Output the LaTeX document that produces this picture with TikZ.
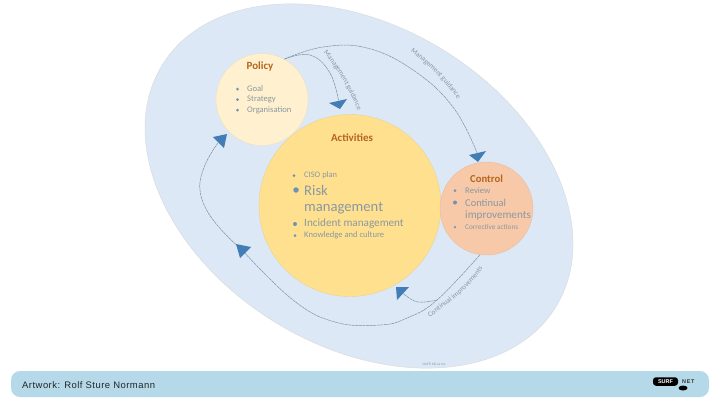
\documentclass[tikz,border=0pt]{standalone}
\usepackage{fontspec}
\setmainfont{Carlito}
\newfontfamily\arialf{Liberation Sans}
\usetikzlibrary{decorations.text}
\definecolor{bigell}{HTML}{DCE8F5}
\definecolor{barc}{HTML}{B5D9E8}
\definecolor{arrowc}{HTML}{427DB5}
\definecolor{linec}{HTML}{7F90A3}
\definecolor{txtc}{HTML}{8A98A1}
\definecolor{headc}{HTML}{B5651D}
\definecolor{bulc}{HTML}{6F93B5}
\definecolor{polc}{HTML}{FFF1CF}
\definecolor{actc}{HTML}{FFE08F}
\definecolor{ctlc}{HTML}{F8C9A8}
\tikzset{
 x=1bp,y=-1bp,
 conn/.style={draw=linec,line width=0.5bp,dash pattern=on 3bp off 0.6bp},
 tipfill/.style={fill=arrowc,draw=none},
 head/.style={font=\bfseries\fontsize{11}{13}\selectfont,text=headc,anchor=center,inner sep=0pt},
 item/.style={text=txtc,anchor=west,inner sep=0pt},
 bul/.style={circle,fill=bulc,inner sep=0pt},
 lab/.style={decoration={text along path,text align=center,text={|\fontsize{7.2}{8}\selectfont\color{txtc}|#1}},decorate},
 circ/.style={circle,inner sep=0pt,draw=#1!85!gray,fill=#1,line width=0.4bp}
}
\begin{document}
\begin{tikzpicture}
\useasboundingbox (0,0) rectangle (720,405);
\fill[white] (0,0) rectangle (720,405);
% big ellipse
\draw[fill=bigell,draw=gray!30,line width=0.4bp,rotate around={-31.5:(359,186)}] (359,186) ellipse [x radius=231,y radius=160];
\node[font=\fontsize{3.5}{4}\selectfont,text=txtc,inner sep=0pt] (credit) at (434,364) {NAPTI fall as rev};
% bar
\fill[barc,rounded corners=9bp] (11,371) rectangle (709,397);
\node[font=\arialf\fontsize{9.5}{11}\selectfont\addfontfeature{LetterSpace=5},anchor=west,inner sep=0pt,text=black!85] (art) at (22,385) {Artwork: Rolf Sture Normann};
% logo
\node[fill=black,text=white,font=\arialf\bfseries\fontsize{5.5}{6}\selectfont,rounded corners=3bp,inner sep=1.2pt,minimum width=25bp,minimum height=8.5bp] (surf) at (665.5,381.5) {SURF};
\fill[black] (683,388) ellipse [x radius=4.5,y radius=2.5];
\node[font=\arialf\bfseries\fontsize{5.5}{6}\selectfont\addfontfeature{LetterSpace=12},text=black!80,anchor=west,inner sep=0pt] (net) at (682,381.5) {NET};
% circles
\node[circ=actc,minimum size=182bp] (act) at (350,205.5) {};
\node[circ=polc,minimum size=92bp] (pol) at (262,99.5) {};
\node[circ=ctlc,minimum size=93bp] (ctl) at (486.5,208.5) {};
% arrowhead anchor points
\coordinate (ta) at (478,155);
\coordinate (tb) at (339,103);
\coordinate (tc) at (218,143);
\coordinate (td) at (242,250);
\coordinate (te) at (402,292);
% connectors
\draw[conn] plot[smooth,tension=0.7] coordinates {(pol.61) (323,47) (367,48) (413,70) (453,107) (ta)};
\draw[conn] plot[smooth,tension=0.7] coordinates {(pol.61) (310,55) (330,73) (tb)};
\draw[conn] (tc) .. controls (205,160) and (198,180) .. (200,190) .. controls (202,212) and (222,232) .. (td);
\draw[conn] plot[smooth,tension=0.7] coordinates {(ctl.262) (437,300) (407,318) (380,325) (335,322) (293,300) (td)};
\draw[conn] plot[smooth,tension=0.7] coordinates {(437,300) (418,302) (405,295) (te)};
% arrowheads
\fill[tipfill] (469,155) -- (486,151) -- (478,162) -- cycle;
\fill[tipfill] (329,103) -- (347,99) -- (340,109) -- cycle;
\fill[tipfill] (213,137) -- (227,134) -- (224,148) -- cycle;
\fill[tipfill] (236,244) -- (251,247) -- (240,258) -- cycle;
\fill[tipfill] (396,287) -- (409,287) -- (397,300) -- cycle;
% connector labels
\path[lab=Management guidance] (321,50) .. controls (335,65) and (350,90) .. (359,114);
\path[lab=Management guidance] (407,49) .. controls (425,62) and (445,80) .. (460,103);
\path[lab=Continual improvements] (427,320) .. controls (445,305) and (470,290) .. (485,265);
% Policy text
\node[head] (pt) at (260,67) {Policy};
\node[item,font=\fontsize{8.6}{10}\selectfont] (p1) at (247,89) {Goal};
\node[item,font=\fontsize{8.6}{10}\selectfont] (p2) at (247,99.5) {Strategy};
\node[item,font=\fontsize{8.6}{10}\selectfont] (p3) at (247,110) {Organisation};
\node[bul,minimum size=3bp] (pb1) at (237.5,89) {};
\node[bul,minimum size=3bp] (pb2) at (237.5,99.5) {};
\node[bul,minimum size=3bp] (pb3) at (237.5,110) {};
% Activities text
\node[head] (at) at (352,138) {Activities};
\node[item,font=\fontsize{8.5}{10}\selectfont] (a1) at (304,175.5) {CISO plan};
\node[item,font=\fontsize{14.7}{17}\selectfont] (a2) at (304,190) {Risk};
\node[item,font=\fontsize{14.7}{17}\selectfont] (a3) at (304,208) {management};
\node[item,font=\fontsize{11.2}{13}\selectfont] (a4) at (304,224) {Incident management};
\node[item,font=\fontsize{8.6}{10}\selectfont] (a5) at (304,235.5) {Knowledge and culture};
\node[bul,minimum size=3bp] (ab1) at (294,175.5) {};
\node[bul,minimum size=5.5bp] (ab2) at (296,190) {};
\node[bul,minimum size=4bp] (ab4) at (295,224) {};
\node[bul,minimum size=3bp] (ab5) at (295,235.5) {};
% Control text
\node[head,font=\bfseries\fontsize{10.7}{13}\selectfont] (ct) at (486.5,179) {Control};
\node[item,font=\fontsize{8.7}{10}\selectfont] (c1) at (465,190.5) {Review};
\node[item,font=\fontsize{10.5}{12}\selectfont] (c2) at (465,202.5) {Continual};
\node[item,font=\fontsize{11.2}{13}\selectfont] (c3) at (465,216) {improvements};
\node[item,font=\fontsize{7.3}{9}\selectfont] (c4) at (465,227) {Corrective actions};
\node[bul,minimum size=3bp] (cb1) at (455,190.5) {};
\node[bul,minimum size=4bp] (cb2) at (455,202.5) {};
\node[bul,minimum size=2.5bp] (cb4) at (455,227) {};
\end{tikzpicture}
\end{document}
